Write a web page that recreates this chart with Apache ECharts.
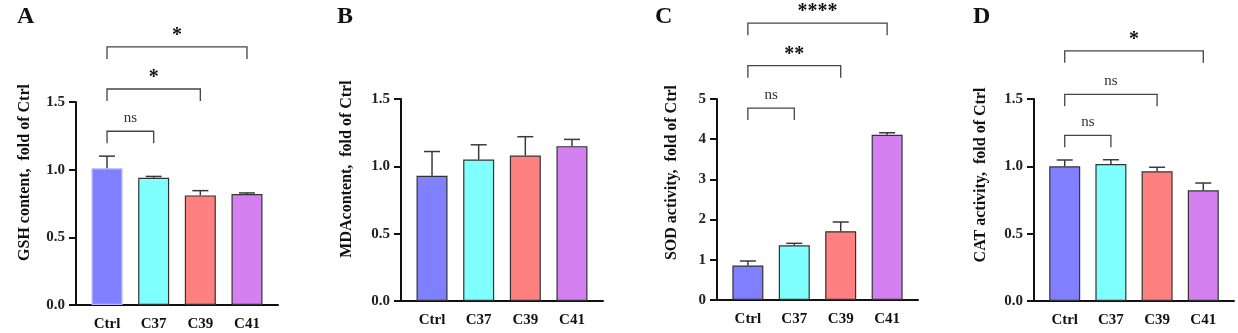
<!DOCTYPE html>
<html>
<head>
<meta charset="utf-8">
<script src="https://cdn.jsdelivr.net/npm/echarts@6/dist/echarts.min.js"></script>
<style>
  html, body { margin: 0; padding: 0; background: #fff; }
  #chart { width: 1238px; height: 333px; }
</style>
</head>
<body>
<div id="chart"></div>
<script>
const CATS = ['Ctrl', 'C37', 'C39', 'C41']
const COLORS = ['#8080ff', '#80ffff', '#ff8080', '#d580f0']

// mean and mean+SD
const gshMean = [1.01, 0.94, 0.81, 0.82]
const gshErr = [1.10, 0.95, 0.845, 0.828]
const mdaMean = [0.93, 1.05, 1.08, 1.15]
const mdaErr = [1.11, 1.16, 1.22, 1.20]
const sodMean = [0.86, 1.36, 1.71, 4.11]
const sodErr = [0.97, 1.41, 1.94, 4.16]
const catMean = [1.0, 1.017, 0.963, 0.822]
const catErr = [1.047, 1.049, 0.993, 0.876]

// significance brackets: [from, to, level]
const gshBrackets = [[0, 1, 1.284], [0, 2, 1.596], [0, 3, 1.907]]
const gshMarks = ['ns', '*', '*']
const sodBrackets = [[0, 1, 4.775], [0, 2, 5.83], [0, 3, 6.886]]
const sodMarks = ['ns', '**', '****']
const catBrackets = [[0, 1, 1.23], [0, 2, 1.535], [0, 3, 1.858]]
const catMarks = ['ns', 'ns', '*']

const FONT = 'Liberation Serif'

const panels = [
  { letter: 'A', name: 'GSH content,  fold of Ctrl', mean: gshMean, err: gshErr, br: gshBrackets, marks: gshMarks,
    grid: { left: 76, top: 102, width: 202, height: 203 }, max: 1.5, step: 0.5, nameGap: 43, shift: 62, letterX: 17 },
  { letter: 'B', name: 'MDAcontent,  fold of Ctrl', mean: mdaMean, err: mdaErr, br: [], marks: [],
    grid: { left: 401, top: 99, width: 202, height: 202 }, max: 1.5, step: 0.5, nameGap: 46, shift: 62, letterX: 337 },
  { letter: 'C', name: 'SOD activity,  fold of Ctrl', mean: sodMean, err: sodErr, br: sodBrackets, marks: sodMarks,
    grid: { left: 717, top: 99, width: 201, height: 201 }, max: 5, step: 1, nameGap: 37, shift: 54, letterX: 655 },
  { letter: 'D', name: 'CAT activity,  fold of Ctrl', mean: catMean, err: catErr, br: catBrackets, marks: catMarks,
    grid: { left: 1034, top: 99, width: 200, height: 202 }, max: 1.5, step: 0.5, nameGap: 45, shift: 50, letterX: 973 },
]

function renderErr(params, api) {
  const x = api.value(0)
  const p0 = api.coord([x, api.value(1)])
  const p1 = api.coord([x, api.value(2)])
  const style = { stroke: '#3a3a3a', lineWidth: 1.5 }
  return {
    type: 'group',
    children: [
      { type: 'line', shape: { x1: p0[0], y1: p0[1], x2: p1[0], y2: p1[1] }, style },
      { type: 'line', shape: { x1: p1[0] - 8, y1: p1[1], x2: p1[0] + 8, y2: p1[1] }, style },
    ],
  }
}

function bracketRenderer(marks) {
  return (params, api) => {
    const a = api.coord([api.value(0), api.value(2)])
    const b = api.coord([api.value(1), api.value(2)])
    const mark = marks[params.dataIndex]
    const isNs = mark === 'ns'
    return {
      type: 'group',
      children: [
        {
          type: 'polyline',
          shape: { points: [[a[0], a[1] + 12], [a[0], a[1]], [b[0], a[1]], [b[0], a[1] + 12]] },
          style: { stroke: '#444', lineWidth: 1.3, fill: null },
        },
        {
          type: 'text',
          x: (a[0] + b[0]) / 2,
          y: a[1] - (isNs ? 13 : 11),
          style: {
            text: mark,
            fontFamily: FONT,
            fontSize: isNs ? 15 : 20,
            fontWeight: isNs ? 'normal' : 'bold',
            fill: isNs ? '#333' : '#111',
            align: 'center',
            verticalAlign: 'middle',
          },
        },
      ],
    }
  }
}

const option = {
  animation: false,
  title: [],
  grid: [],
  xAxis: [],
  yAxis: [],
  series: [],
}

panels.forEach((p, k) => {
  option.title.push({
    text: p.letter, left: p.letterX, top: 5, padding: 0,
    textStyle: { fontFamily: FONT, fontWeight: 'bold', fontSize: 24, color: '#111' },
  })
  option.grid.push(p.grid)
  option.xAxis.push({
    type: 'value', gridIndex: k, min: -0.665, max: 3.665,
    axisLine: { show: true, onZero: false, lineStyle: { color: '#111', width: 2 } },
    axisTick: { show: false },
    splitLine: { show: false },
    axisLabel: {
      customValues: [0, 1, 2, 3],
      formatter: v => CATS[Math.round(v)],
      margin: 12,
      fontFamily: FONT, fontWeight: 'bold', fontSize: 15, color: '#111',
    },
  })
  option.yAxis.push({
    type: 'value', gridIndex: k, min: 0, max: p.max, interval: p.step,
    name: p.name, nameLocation: 'middle', nameGap: p.nameGap,
    nameTextStyle: { fontFamily: FONT, fontWeight: 'bold', fontSize: 16, color: '#111', padding: [0, 0, 0, p.shift] },
    axisLine: { show: true, onZero: false, lineStyle: { color: '#111', width: 2 } },
    axisTick: { show: true, length: 7, lineStyle: { color: '#111', width: 2 } },
    splitLine: { show: false },
    axisLabel: {
      margin: 11,
      formatter: v => (p.step < 1 ? v.toFixed(1) : String(v)),
      fontFamily: FONT, fontWeight: 'bold', fontSize: 15, color: '#222',
    },
  })
  option.series.push({
    type: 'bar', xAxisIndex: k, yAxisIndex: k, barWidth: 31,
    data: p.mean.map((v, i) => ({
      value: [i, v],
      itemStyle: {
        color: COLORS[i],
        borderColor: k === 0 && i === 0 ? '#b4b4ff' : '#333',
        borderWidth: 1.2,
      },
    })),
  })
  option.series.push({
    type: 'custom', xAxisIndex: k, yAxisIndex: k, z: 3,
    renderItem: renderErr,
    data: p.mean.map((v, i) => [i, v, p.err[i]]),
  })
  if (p.br.length) {
    option.series.push({
      type: 'custom', xAxisIndex: k, yAxisIndex: k, z: 3, clip: false,
      renderItem: bracketRenderer(p.marks),
      data: p.br,
    })
  }
})

const chart = echarts.init(document.getElementById('chart'), undefined, { renderer: 'canvas' })
chart.setOption(option)
window.addEventListener('resize', () => chart.resize())
</script>
</body>
</html>
